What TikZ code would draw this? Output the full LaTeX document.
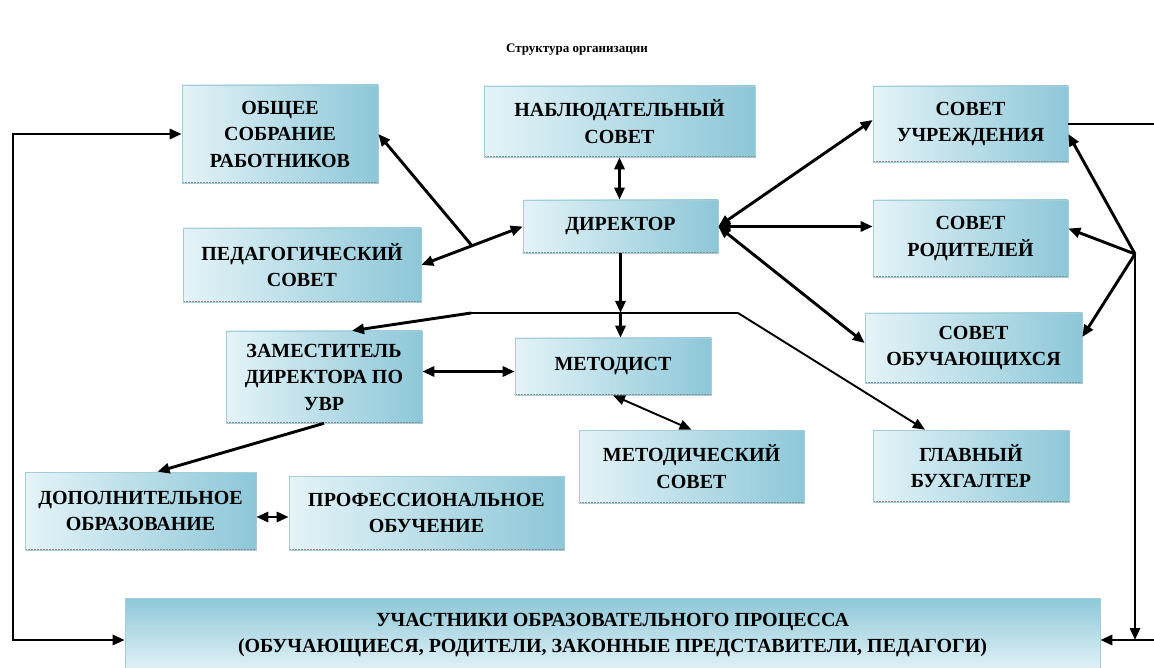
\documentclass[tikz,border=0pt]{standalone}
\usepackage{fontspec}
\setmainfont{Liberation Serif}
\usetikzlibrary{arrows.meta,calc}
\definecolor{bxlight}{HTML}{E4F3F7}
\definecolor{bxdark}{HTML}{8DC7D8}
\definecolor{bxedge}{HTML}{A3CDD8}
\begin{document}
\begin{tikzpicture}[x=1pt,y=-1pt,
  orgbox/.style={draw=bxedge, line width=0.6pt, inner sep=0pt, align=center,
    font=\fontsize{20}{26.5}\selectfont\bfseries,
    left color=bxlight, right color=bxdark,
    path picture={\draw[black!45, densely dotted, line width=2pt]
      (path picture bounding box.south west) -- (path picture bounding box.south east);}},
  thickln/.style={line width=2.9pt},
  thinln/.style={line width=1.9pt},
  onetip/.style={-{Triangle[length=12pt,width=10pt]}},
  twotips/.style={{Triangle[length=12pt,width=10pt]}-{Triangle[length=12pt,width=10pt]}},
]
\useasboundingbox (0,0) rectangle (1154,668);
\node[font=\fontsize{13}{15}\selectfont\bfseries] (title) at (577,50) {Структура организации};

\node[orgbox, minimum width=196pt, minimum height=98pt] (ob) at (280,134) {ОБЩЕЕ\\СОБРАНИЕ\\РАБОТНИКОВ};
\node[orgbox, minimum width=271pt, minimum height=71pt] (nab) at (619.5,121.5) {НАБЛЮДАТЕЛЬНЫЙ\\СОВЕТ};
\node[orgbox, minimum width=195pt, minimum height=76pt] (su) at (970.5,124) {СОВЕТ\\УЧРЕЖДЕНИЯ};
\node[orgbox, minimum width=195pt, minimum height=53pt] (dir) at (620.5,226.5) {ДИРЕКТОР};
\node[orgbox, minimum width=238pt, minimum height=74pt] (ped) at (302,265) {ПЕДАГОГИЧЕСКИЙ\\СОВЕТ};
\node[orgbox, minimum width=195pt, minimum height=77pt] (sr) at (970.5,238.5) {СОВЕТ\\РОДИТЕЛЕЙ};
\node[orgbox, minimum width=217pt, minimum height=70pt] (so) at (973.5,348) {СОВЕТ\\ОБУЧАЮЩИХСЯ};
\node[orgbox, minimum width=196pt, minimum height=92pt] (zam) at (324,377) {ЗАМЕСТИТЕЛЬ\\ДИРЕКТОРА ПО\\УВР};
\node[orgbox, minimum width=196pt, minimum height=57pt] (met) at (613,366.5) {МЕТОДИСТ};
\node[orgbox, minimum width=225pt, minimum height=73pt] (mc) at (691.5,466.5) {МЕТОДИЧЕСКИЙ\\СОВЕТ};
\node[orgbox, minimum width=196pt, minimum height=72pt] (gb) at (971,466) {ГЛАВНЫЙ\\БУХГАЛТЕР};
\node[orgbox, minimum width=231pt, minimum height=78pt] (dop) at (140.5,511) {ДОПОЛНИТЕЛЬНОЕ\\ОБРАЗОВАНИЕ};
\node[orgbox, minimum width=275pt, minimum height=74pt] (prof) at (426.5,513) {ПРОФЕССИОНАЛЬНОЕ\\ОБУЧЕНИЕ};
\node[orgbox, minimum width=975pt, minimum height=74pt, top color=bxdark, bottom color=bxlight] (uch) at (612.5,635)
  {УЧАСТНИКИ ОБРАЗОВАТЕЛЬНОГО ПРОЦЕССА\\(ОБУЧАЮЩИЕСЯ, РОДИТЕЛИ, ЗАКОННЫЕ ПРЕДСТАВИТЕЛИ, ПЕДАГОГИ)};

% coordinates
\coordinate (lbot) at (13,640);
\coordinate (rtop) at (1154,124);
\coordinate (rbot) at (1154,640);
\coordinate (hub) at (1135,254);
\coordinate (barL) at (471,313);
\coordinate (barR) at (738,313);
\coordinate (br) at ($(ped.east)!0.5!(dir.west)$);

% left loop
\draw[thickln, twotips] (ob.west) -- (ob.west -| lbot) -- (lbot) -- (lbot -| uch.west);
% right side
\draw[thinln] (su.east) -- (su.east -| rtop);
\draw[thickln, onetip] (rbot) -- (rbot -| uch.east);
\draw[thickln, onetip] (hub) -- (hub |- rbot);
\draw[thickln, onetip] (hub) -- ([yshift=-10pt]su.east);
\draw[thickln, onetip] (hub) -- ([yshift=10pt]sr.east);
\draw[thickln, onetip] (hub) -- ([yshift=11pt]so.east);

% director
\draw[thickln, twotips] (nab.south) -- (nab.south |- dir.north);
\draw[thickln, twotips] (dir.east) -- ([yshift=4pt]su.west);
\draw[thickln, twotips] (dir.east) -- (dir.east -| sr.west);
\draw[thickln, twotips] (dir.east) -- ([yshift=5pt]so.west);
\draw[thickln, twotips] (ped.east) -- (dir.west);
\draw[thickln, onetip] (br) -- (ob.east);
\draw[thickln, onetip] (dir.south) -- (dir.south |- barL);
\draw[thickln, onetip] (dir.south |- barL) -- (dir.south |- met.north);

% bar
\draw[thinln] (barL) -- (barR);
\draw[thickln, onetip] (barL) -- ([xshift=28pt]zam.north);
\draw[thinln, onetip] (barR) -- ([xshift=-46pt]gb.north);

% lower
\draw[thickln, twotips] ([yshift=-5pt]met.west -| zam.east) -- ([yshift=-5pt]met.west);
\draw[thinln, twotips] (met.south) -- (mc.north);
\draw[thickln, onetip] (zam.south) -- ([xshift=17pt]dop.north);
\draw[thickln, twotips] ([yshift=-6pt]dop.east) -- ([yshift=-6pt]dop.east -| prof.west);
\end{tikzpicture}
\end{document}
